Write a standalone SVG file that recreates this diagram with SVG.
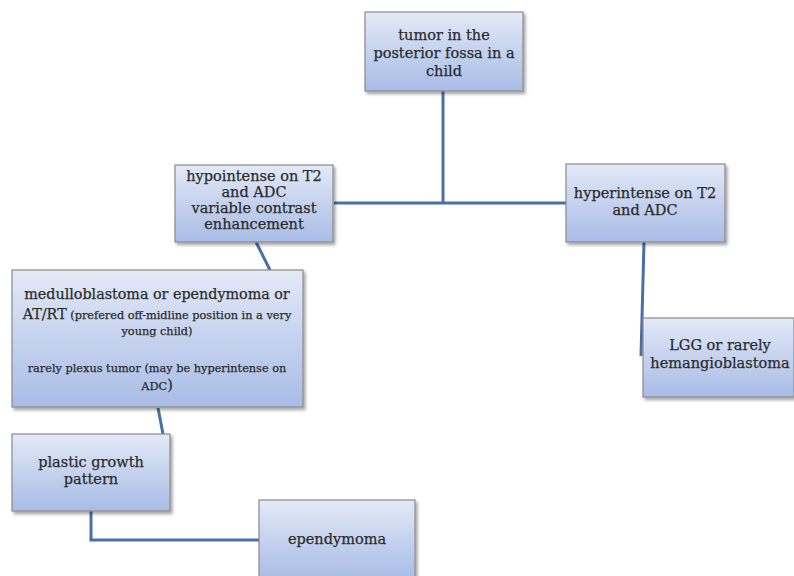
<svg xmlns="http://www.w3.org/2000/svg" width="794" height="576" viewBox="0 0 794 576">
<style>
.box{fill:url(#g);stroke:#8a8a8a;stroke-width:1.2;filter:url(#sh)}
.t{font-family:"DejaVu Serif","Liberation Serif",serif;fill:#2b2b2b;stroke:#2b2b2b;stroke-width:0.25;text-anchor:middle;font-size:14.5px}
.s{font-size:11.3px}
.b{font-size:14.3px}
.c{fill:none;stroke:#4a6fa8;stroke-width:3}
</style>
<defs>
<linearGradient id="g" x1="0" y1="0" x2="0" y2="1">
<stop offset="0" stop-color="#e3e9f7"/>
<stop offset="1" stop-color="#a8bce6"/>
</linearGradient>
<filter id="sh" x="-10%" y="-10%" width="130%" height="130%">
<feDropShadow dx="2" dy="2.5" stdDeviation="1.5" flood-color="#000" flood-opacity="0.35"/>
</filter>
</defs>
<rect width="794" height="576" fill="#fff"/>
<g id="connectors">
<path class="c" d="M443,91 V203"/>
<path class="c" d="M334,203 H567"/>
<path class="c" d="M256,242 L270,270"/>
<path class="c" d="M644,242 L641,356"/>
<path class="c" d="M158,408 L163,434"/>
<path class="c" d="M91,511 V540 H260"/>
</g>
<g id="n1">
<rect class="box" x="365" y="12" width="158" height="79"/>
<text class="t" x="444" y="40">tumor in the</text>
<text class="t" x="444" y="58">posterior fossa in a</text>
<text class="t" x="444" y="76">child</text>
</g>
<g id="n2">
<rect class="box" x="175" y="165" width="158" height="77"/>
<text class="t" x="254" y="181">hypointense on T2</text>
<text class="t" x="254" y="197">and ADC</text>
<text class="t" x="254" y="213">variable contrast</text>
<text class="t" x="254" y="229">enhancement</text>
</g>
<g id="n3">
<rect class="box" x="566" y="164" width="159" height="78"/>
<text class="t" x="645" y="198">hyperintense on T2</text>
<text class="t" x="645" y="215">and ADC</text>
</g>
<g id="n4">
<rect class="box" x="12" y="270" width="291" height="137"/>
<text class="t b" x="157" y="299">medulloblastoma or ependymoma or</text>
<text class="t" x="157" y="319"><tspan class="b">AT/RT</tspan><tspan class="s"> (prefered off-midline position in a very</tspan></text>
<text class="t s" x="157" y="335">young child)</text>
<text class="t s" x="157" y="372">rarely plexus tumor (may be hyperintense on</text>
<text class="t" x="157" y="390"><tspan class="s">ADC</tspan><tspan class="b">)</tspan></text>
</g>
<g id="n5">
<rect class="box" x="643" y="318" width="151" height="79"/>
<text class="t" x="720" y="350">LGG or rarely</text>
<text class="t" x="720" y="368">hemangioblastoma</text>
</g>
<g id="n6">
<rect class="box" x="12" y="434" width="158" height="77"/>
<text class="t" x="91" y="467">plastic growth</text>
<text class="t" x="91" y="484">pattern</text>
</g>
<g id="n7">
<rect class="box" x="259" y="500" width="156" height="80"/>
<text class="t" x="337" y="544">ependymoma</text>
</g>
</svg>
